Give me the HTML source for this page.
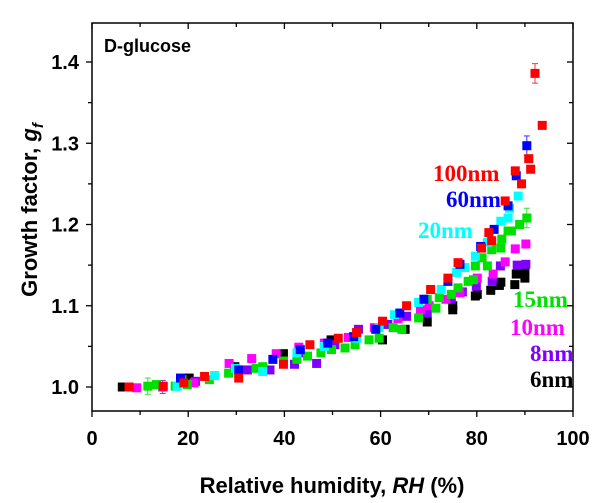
<!DOCTYPE html>
<html><head><meta charset="utf-8"><style>
html,body{margin:0;padding:0;background:#fff;}
svg{display:block;}
.sans{font-family:"Liberation Sans",Arial,sans-serif;font-weight:bold;}
.serif{font-family:"Liberation Serif","Times New Roman",serif;font-weight:bold;}
</style></head><body>
<svg id="chart" width="600" height="503" viewBox="0 0 600 503" xmlns="http://www.w3.org/2000/svg">
<g id="marks"></g>
<g id="axes"></g>
<text class="sans" x="104" y="52" font-size="18">D-glucose</text>
<text class="sans" x="332" y="493" font-size="22" text-anchor="middle">Relative humidity, <tspan font-style="italic">RH</tspan> (%)</text>
<text class="sans" transform="translate(37,210) rotate(-90)" font-size="22" text-anchor="middle">Growth factor, <tspan font-style="italic">g</tspan><tspan font-style="italic" font-size="15" dy="6">f</tspan></text>
<g id="labels"></g>
</svg>
<script>
const NS="http://www.w3.org/2000/svg";
const xTicks=[0,20,40,60,80,100];
const yTicks=[1.0,1.1,1.2,1.3,1.4];
const seriesNames=["6nm","8nm","10nm","15nm","20nm","60nm","100nm"];
const seriesColors=["#000000","#8000ff","#ff00ff","#00e000","#00ffff","#0000ff","#ff0000"];
const red=[[92.1,1.386],[93.6,1.322],[90.8,1.281],[91.2,1.268],[89.3,1.25],[88,1.266],[85.9,1.229],[82.5,1.19],[83.1,1.18],[81,1.171],[76.1,1.153],[74,1.134],[70.4,1.12],[65.4,1.1],[60.4,1.081],[55,1.067],[51.2,1.06],[45.3,1.052],[39.8,1.028],[30.5,1.011],[23.4,1.013],[19.1,1.005],[14.8,1.001],[7.7,1.0]];
const blue=[[90.4,1.297],[88.2,1.26],[86.5,1.223],[83.6,1.194],[80.8,1.173],[76.5,1.151],[74,1.13],[69,1.108],[64,1.091],[59,1.071],[54.4,1.062],[49,1.054],[43.3,1.046],[37.6,1.034],[30.5,1.021],[18.4,1.011],[7.7,1.0]];
const cyan=[[88.6,1.235],[86.8,1.22],[86.5,1.208],[85,1.204],[82.2,1.178],[79.7,1.161],[77.5,1.147],[75.8,1.141],[72.6,1.12],[67.9,1.104],[62.9,1.089],[59.7,1.073],[55.1,1.06],[48.3,1.05],[42.6,1.042],[35.5,1.019],[29.8,1.023],[25.5,1.014],[17.7,1.001]];
const green=[[90.4,1.208],[88.9,1.2],[87.2,1.192],[86.5,1.192],[85.2,1.182],[85,1.171],[83.1,1.169],[81.1,1.159],[82.2,1.149],[79.7,1.149],[79.3,1.132],[78.2,1.13],[76.1,1.122],[74.7,1.114],[72.2,1.11],[71.5,1.097],[69.7,1.108],[67.9,1.085],[64.4,1.071],[62.6,1.073],[59.7,1.06],[57.6,1.058],[54.7,1.052],[52.6,1.048],[49.8,1.046],[47.6,1.042],[44.8,1.038],[42.6,1.034],[39.8,1.032],[35.5,1.025],[34.1,1.023],[30.5,1.021],[28.4,1.017],[24.4,1.009],[19.8,1.003],[18.7,1.009],[17.3,1.001],[13.4,1.003],[11.6,1.001]];
const magenta=[[90.2,1.176],[88,1.17],[85.9,1.154],[83.4,1.139],[80.1,1.134],[76.5,1.116],[73.6,1.108],[70.1,1.1],[68.3,1.095],[63.6,1.084],[58.7,1.073],[53.3,1.061],[48.3,1.054],[43,1.049],[38.3,1.041],[33.2,1.035],[28.5,1.029],[21.2,1.005],[14.8,1.0],[9.3,0.999]];
const purple=[[90.2,1.151],[88.4,1.15],[84.9,1.149],[83.2,1.13],[79.9,1.124],[77,1.117],[74.7,1.108],[69.7,1.091],[65.4,1.087],[61.5,1.077],[55.4,1.071],[50.5,1.052],[46.7,1.029],[43.3,1.042],[42.1,1.028],[37,1.021],[32.3,1.021],[21.5,1.007],[14.7,1.0]];
const black=[[90,1.134],[90,1.143],[88.2,1.139],[87.9,1.126],[85,1.129],[84.7,1.125],[82.9,1.119],[80.1,1.114],[79.7,1.112],[75,1.1],[75,1.095],[69.7,1.08],[65.1,1.071],[60.4,1.058],[49.7,1.058],[39.8,1.041],[29.7,1.025],[20.2,1.011],[6.3,1.0],[7.3,1.0]];
const seriesData=[black,purple,magenta,green,cyan,blue,red];
const errX=[92.1,90.4,90.4,11.6,14.7];
const errY=[1.386,1.297,1.208,1.001,1.0];
const errE=[0.012,0.012,0.012,0.01,0.008];
const errC=["#ff0000","#0000ff","#00e000","#00e000","#8000ff"];
const L=92,R=573,T=23,B=411;
const X=v=>L+(v-0)/(100-0)*(R-L);
const Y=v=>387-(v-1.0)/(0.4)*(387-62);
function mk(tag,attrs,parent){const e=document.createElementNS(NS,tag);for(const k in attrs)e.setAttribute(k,attrs[k]);parent.appendChild(e);return e;}
const marks=document.getElementById('marks');
const axes=document.getElementById('axes');
const labels=document.getElementById('labels');
errX.forEach((x,i)=>{
  const g=mk('g',{stroke:errC[i],'stroke-width':1,opacity:0.8},marks);
  
  
  const cx=X(x),y1=Y(errY[i]+errE[i]),y2=Y(errY[i]-errE[i]);
  mk('line',{x1:cx,x2:cx,y1:y1,y2:y2},g);
  mk('line',{x1:cx-3,x2:cx+3,y1:y1,y2:y1},g);
  mk('line',{x1:cx-3,x2:cx+3,y1:y2,y2:y2},g);
});
seriesData.forEach((pts,si)=>{
  const g=mk('g',{fill:seriesColors[si]},marks);
  
  
  pts.forEach(p=>{
    const r=mk('rect',{x:X(p[0])-4.5,y:Y(p[1])-4.5,width:9,height:9},g);
    
    
  });
});
const fr=mk('rect',{x:L,y:T,width:R-L,height:B-T,fill:'none',stroke:'#000','stroke-width':1.5},axes);


for(let v=0;v<=100;v+=10){
  const major=v%20===0,len=major?6:4,x=X(v);
  mk('line',{x1:x,x2:x,y1:B,y2:B+len,stroke:'#000','stroke-width':1.3},axes);
  mk('line',{x1:x,x2:x,y1:T,y2:T+len,stroke:'#000','stroke-width':1.3},axes);
}
for(let k=0;k<=9;k++){
  const v=0.95+k*0.05; const y=Y(v); if(y<T||y>B)continue;
  const major=k%2===1,len=major?6:4;
  mk('line',{x1:L-len,x2:L,y1:y,y2:y,stroke:'#000','stroke-width':1.3},axes);
  mk('line',{x1:R-len,x2:R,y1:y,y2:y,stroke:'#000','stroke-width':1.3},axes);
}
xTicks.forEach(v=>{
  const t=mk('text',{x:X(v),y:445,'text-anchor':'middle','font-size':20,class:'sans'},axes);
  t.textContent=v;
  
  
});
yTicks.forEach(v=>{
  const t=mk('text',{x:79,y:Y(v)+7,'text-anchor':'end','font-size':20,class:'sans'},axes);
  t.textContent=v.toFixed(1);
  
  
});
const labelText=["100nm","60nm","20nm","15nm","10nm","8nm","6nm"];
const labelColor=["#ff0000","#0000ff","#00ffff","#00e000","#ff00ff","#8000ff","#000000"];
const labelPos=[[433,181],[446,207],[418,238],[513,307],[510,335],[530,361],[530,387]];
labelText.forEach((s,i)=>{
  const t=mk('text',{x:labelPos[i][0],y:labelPos[i][1],fill:labelColor[i],'font-size':23,class:'serif'},labels);
  t.textContent=s;
  
  
});
</script>
</body></html>
